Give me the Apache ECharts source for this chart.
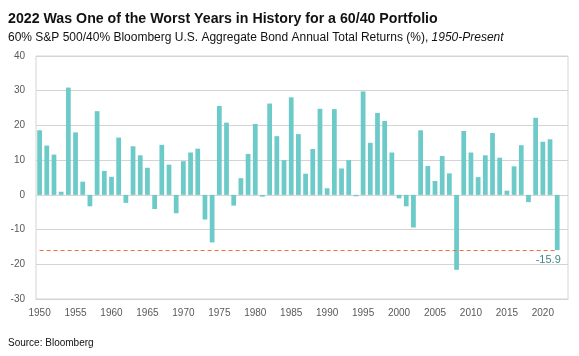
<!DOCTYPE html>
<html>
<head>
<meta charset="utf-8">
<script src="https://cdn.jsdelivr.net/npm/echarts@6/dist/echarts.min.js"></script>
<style>html,body{margin:0;padding:0;background:#fff;}#c{width:579px;height:356px;}</style>
</head>
<body>
<div id="c"></div>
<script>
// Years 1950-2023 (2023 empty slot at end of axis)
const years = [];
for (let y = 1950; y <= 2023; y++) years.push(String(y));

const returns6040 = [
  18.6, 14.2, 11.6, 0.9, 30.9, 18.0, 3.8, -3.3, 24.1, 6.9,
  5.2, 16.5, -2.3, 14.0, 11.4, 7.8, -4.1, 14.4, 8.7, -5.3,
  9.7, 12.2, 13.3, -7.1, -13.7, 25.6, 20.8, -3.1, 4.8, 11.8,
  20.4, -0.5, 26.3, 16.9, 10.0, 28.1, 17.5, 6.1, 13.2, 24.8,
  1.9, 24.7, 7.6, 10.0, -0.4, 29.8, 15.0, 23.6, 21.3, 12.2,
  -1.0, -3.3, -9.4, 18.6, 8.3, 4.0, 11.2, 6.2, -21.6, 18.4,
  12.2, 5.1, 11.4, 17.8, 10.7, 1.2, 8.2, 14.3, -2.1, 22.2,
  15.3, 16.0, -15.9, null
];

const yTicks = [-30, -20, -10, 0, 10, 20, 30, 40];
const refValue = -15.9;
const refYear = '2022';

const chart = echarts.init(document.getElementById('c'), null, {renderer: 'canvas'});
const font = 'Liberation Sans, Arial, sans-serif';

chart.setOption({
  animation: false,
  backgroundColor: '#fff',
  title: [
    {
      text: '2022 Was One of the Worst Years in History for a 60/40 Portfolio',
      left: 3, top: 7,
      textStyle: {fontFamily: font, fontSize: 14.2, fontWeight: 'bold', color: '#111'}
    },
    {
      text: '60% S&P 500/40% Bloomberg U.S. Aggregate Bond Annual Total Returns (%), {i|1950-Present}',
      left: 3, top: 27,
      textStyle: {fontFamily: font, fontSize: 12, fontWeight: 'normal', color: '#111',
        rich: {i: {fontFamily: font, fontSize: 12, fontStyle: 'italic', color: '#111'}}}
    },
    {
      text: 'Source: Bloomberg',
      left: 3, top: 333,
      textStyle: {fontFamily: font, fontSize: 10, fontWeight: 'normal', color: '#111'}
    }
  ],
  grid: {left: 36, right: 11, top: 56, bottom: 57, show: true, borderColor: '#d4d4d4', borderWidth: 1},
  xAxis: {
    type: 'category',
    data: years,
    axisLine: {onZero: false, lineStyle: {color: '#d4d4d4'}},
    axisTick: {show: false},
    axisLabel: {interval: 4, color: '#595959', fontFamily: font, fontSize: 10, margin: 9}
  },
  yAxis: {
    type: 'value',
    min: yTicks[0], max: yTicks[yTicks.length - 1], interval: 10,
    axisLine: {show: false},
    axisTick: {show: false},
    splitLine: {lineStyle: {color: '#d4d4d4'}},
    axisLabel: {color: '#595959', fontFamily: font, fontSize: 10, margin: 11}
  },
  series: [{
    type: 'bar',
    data: returns6040.map((v, i) => years[i] === refYear ? {
      value: v,
      label: {show: true, position: 'bottom', distance: 4, offset: [-9, 0],
        formatter: '{c}', color: '#3d8785', fontFamily: font, fontSize: 11}
    } : v),
    barCategoryGap: '34%',
    itemStyle: {color: '#6ccac8'},
    markLine: {
      symbol: 'none',
      silent: true,
      label: {show: false},
      lineStyle: {color: '#f26b3a', type: [4, 3], width: 1},
      data: [[{coord: [years[0], refValue]}, {coord: [refYear, refValue]}]]
    }
  }]
});
</script>
</body>
</html>
